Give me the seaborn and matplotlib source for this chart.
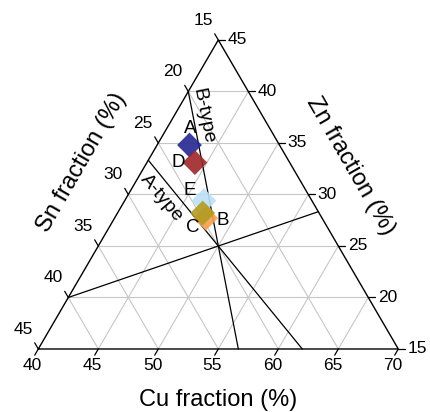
import numpy as np
import pandas as pd
import matplotlib
matplotlib.use("Agg")
import matplotlib.pyplot as plt
import seaborn as sns

# ---------------- data ----------------
samples = ["A", "D", "E", "B", "C"]
cu_frac = [42.7, 44.0, 46.6, 47.6, 47.1]
zn_frac = [34.8, 33.1, 29.4, 27.7, 28.2]
sn_frac = [22.5, 22.9, 24.0, 24.7, 24.7]
sample_colors = ["#262690", "#9e2629", "#bcdff8", "#f3a04e", "#b39b22"]

cu_ticks = [40, 45, 50, 55, 60, 65, 70]
zn_ticks = [15, 20, 25, 30, 35, 40, 45]
sn_ticks = [15, 20, 25, 30, 35, 40, 45]

# reference lines (start / end compositions, Cu and Zn in %)
ref_names = ["B-type", "A-type", "Sn-line"]
ref_cu_start = [40.0, 40.0, 40.0]
ref_zn_start = [40.0, 33.33, 20.0]
ref_cu_end = [56.67, 62.0, 56.67]
ref_zn_end = [15.0, 15.0, 28.33]

# ---------------- geometry ----------------
CU0, ZN0, SN0, SPAN = 40.0, 15.0, 15.0, 30.0
H = np.sqrt(3) / 2


def to_xy(cu, zn):
    a = (np.asarray(cu, float) - CU0) / SPAN
    b = (np.asarray(zn, float) - ZN0) / SPAN
    return a + b / 2, b * H


sns.set_style("white")
plt.rcParams["font.family"] = ["Liberation Sans", "DejaVu Sans"]
plt.rcParams["text.color"] = "black"

fig = plt.figure(figsize=(4.30, 4.12), dpi=100)
ax = fig.add_axes([0, 0, 1, 1])

grid_kw = dict(color="#c6c6c6", lw=0.8, zorder=1)
L = 0.02  # tick length

# Cu gridlines (constant Cu) and ticks on bottom edge
for v in cu_ticks:
    x0, y0 = to_xy(v, ZN0)
    x1, y1 = to_xy(v, 100 - v - SN0)
    if CU0 < v < CU0 + SPAN:
        ax.plot([x0, x1], [y0, y1], **grid_kw)
    ax.plot([x0, x0 - 0.5 * L], [y0, y0 - H * L], color="black", lw=0.9, zorder=3)
    ax.text(x0 - 0.016, y0 - 0.047, f"{v}", ha="center", va="center", fontsize=12.5)

# Zn gridlines (horizontal) and ticks on right edge
for v in zn_ticks:
    x0, y0 = to_xy(CU0, v)
    x1, y1 = to_xy(100 - v - SN0, v)
    if ZN0 < v < ZN0 + SPAN:
        ax.plot([x0, x1], [y0, y1], **grid_kw)
    ax.plot([x1, x1 + L], [y1, y1], color="black", lw=0.9, zorder=3)
    ax.text(x1 + 0.026, y1, f"{v}", ha="left", va="center", fontsize=12.5)

# Sn gridlines and ticks on left edge
for v in sn_ticks:
    x0, y0 = to_xy(CU0, 100 - CU0 - v)
    x1, y1 = to_xy(100 - ZN0 - v, ZN0)
    if SN0 < v < SN0 + SPAN:
        ax.plot([x0, x1], [y0, y1], **grid_kw)
    ax.plot([x0, x0 - 0.5 * L], [y0, y0 + H * L], color="black", lw=0.9, zorder=3)
    ax.text(x0 - 0.042, y0 + 0.055, f"{v}", ha="center", va="center", fontsize=12.5)

# triangle frame
tx, ty = to_xy([CU0, CU0 + SPAN, CU0, CU0], [ZN0, ZN0, ZN0 + SPAN, ZN0])
ax.plot(tx, ty, color="black", lw=1.0, zorder=3, solid_joinstyle="miter")

# reference lines
for n, c0, z0, c1, z1 in zip(ref_names, ref_cu_start, ref_zn_start, ref_cu_end, ref_zn_end):
    xs, ys = to_xy([c0, c1], [z0, z1])
    ax.plot(xs, ys, color="black", lw=0.9, zorder=2)

# type labels
bx, by = to_xy(42.4, 37.6)
ax.text(bx, by, "B-type", rotation=-78.9, rotation_mode="anchor",
        ha="center", va="center", fontsize=14)
axx, axy = to_xy(42.9, 29.7)
ax.text(axx, axy, "A-type", rotation=-49.8, rotation_mode="anchor",
        ha="center", va="center", fontsize=14)

# sample points
px, py = to_xy(cu_frac, zn_frac)
df = pd.DataFrame({"x": px, "y": py, "sample": samples})
sns.scatterplot(data=df, x="x", y="y", hue="sample", hue_order=samples,
                palette=dict(zip(samples, sample_colors)), marker="D", s=160,
                linewidth=0, alpha=0.9, legend=False, ax=ax, zorder=4)
ax.set_xlim(-0.1064, 1.0881)
ax.set_ylim(-0.1766, 0.9781)
ax.axis("off")

offsets = {"A": (0.7, 12.0), "D": (-12.0, 0.0), "E": (-10.0, 7.0),
           "C": (-7.2, -10.5), "B": (12.0, -2.0)}
for s, x, y in zip(samples, px, py):
    ax.annotate(s, (x, y), xytext=offsets[s], textcoords="offset points",
                ha="center", va="center", fontsize=13.5, zorder=5)

# axis titles
ax.text(0.499, -0.143, "Cu fraction (%)", ha="center", va="center", fontsize=17)
ax.text(0.121, 0.524, "Sn fraction (%)", rotation=60, rotation_mode="anchor",
        ha="center", va="center", fontsize=17)
ax.text(0.866, 0.513, "Zn fraction (%)", rotation=-60, rotation_mode="anchor",
        ha="center", va="center", fontsize=17)

fig.savefig("out.png", dpi=100)
